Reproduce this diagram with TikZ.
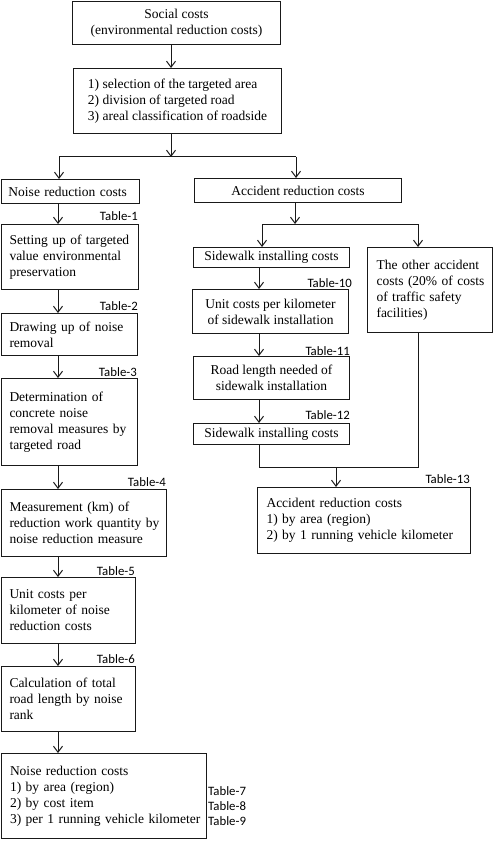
\documentclass[tikz,border=0pt]{standalone}
\usepackage{fontspec}
\setmainfont{Liberation Serif}
\newfontfamily\tabfont{Carlito}
\usetikzlibrary{arrows.meta}
\begin{document}
\begin{tikzpicture}[x=1pt,y=-1pt,
  box/.style={draw=black!90, line width=1pt, rectangle, anchor=north west, inner ysep=0pt, inner xsep=0pt,
    font=\fontsize{13.5pt}{16pt}\selectfont, text=black},
  cbox/.style={box, align=center},
  lbox/.style={box, align=left, inner xsep=8pt},
  arr/.style={draw=black!90, line width=1pt, -{Straight Barb[length=6pt,width=9pt,line width=1pt]}},
  conn/.style={draw=black!90, line width=1pt},
  tbl/.style={inner sep=0pt, font=\tabfont\fontsize{12.8pt}{14pt}\selectfont, text=black}]
\useasboundingbox (0,0) rectangle (493,842);

% left column boxes
\node[cbox, minimum width=208pt, minimum height=43pt] (social) at (72,1) {Social costs\\(environmental reduction costs)};
\node[box, align=left, minimum width=208pt, minimum height=65pt] (steps) at (73,68) {1) selection of the targeted area\\2) division of targeted road\\3) areal classification of roadside};
\node[lbox, inner xsep=7pt, text width=124pt, minimum height=24pt] (noise) at (1,179) {\mbox{Noise reduction costs}};
\node[cbox, minimum width=207pt, minimum height=24pt] (acc) at (194,178) {Accident reduction costs};
\node[lbox, text width=121pt, minimum height=65pt] (setting) at (1,224) {\mbox{Setting up of targeted}\\\mbox{value environmental}\\\mbox{preservation}};
\node[lbox, text width=120pt, minimum height=42pt] (drawing) at (1,313) {\mbox{Drawing up of noise}\\\mbox{removal}};
\node[lbox, text width=120pt, minimum height=87pt] (determ) at (1,378) {\mbox{Determination of}\\\mbox{concrete noise}\\\mbox{removal measures by}\\\mbox{targeted road}};
\node[lbox, text width=149pt, minimum height=67pt] (meas) at (1,489) {\mbox{Measurement (km) of}\\\mbox{reduction work quantity by}\\\mbox{noise reduction measure}};
\node[lbox, text width=118pt, minimum height=66pt] (unitn) at (1,577) {\mbox{Unit costs per}\\\mbox{kilometer of noise}\\\mbox{reduction costs}};
\node[lbox, text width=118pt, minimum height=65pt] (calc) at (1,666) {\mbox{Calculation of total}\\\mbox{road length by noise}\\\mbox{rank}};
\node[lbox, inner xsep=8.5pt, text width=188pt, minimum height=85pt] (noisefin) at (1,753) {\mbox{Noise reduction costs}\\\mbox{1) by area (region)}\\\mbox{2) by cost item}\\\mbox{3) per 1 running vehicle kilometer}};

% right column boxes
\node[cbox, minimum width=156pt, minimum height=20pt] (side1) at (193,247) {Sidewalk installing costs};
\node[cbox, minimum width=156pt, minimum height=44pt] (unitside) at (192,289) {Unit costs per kilometer\\of sidewalk installation};
\node[cbox, minimum width=156pt, minimum height=43pt] (roadlen) at (193,356) {Road length needed of\\sidewalk installation};
\node[cbox, minimum width=156pt, minimum height=21pt] (side2) at (193,423) {Sidewalk installing costs};
\node[lbox, inner xsep=9pt, text width=107pt, minimum height=85pt] (other) at (367,247) {\mbox{The other accident}\\\mbox{costs (20\% of costs}\\\mbox{of traffic safety}\\\mbox{facilities)}};
\node[lbox, inner xsep=9pt, text width=195pt, minimum height=66pt] (accfin) at (257,487) {\mbox{Accident reduction costs}\\\mbox{1) by area (region)}\\\mbox{2) by 1 running vehicle kilometer}};

% table labels
\node[tbl, anchor=east] (t1) at (138,216) {Table-1};
\node[tbl, anchor=east] (t2) at (138,306) {Table-2};
\node[tbl, anchor=east] (t3) at (137,372) {Table-3};
\node[tbl, anchor=east] (t4) at (166,482) {Table-4};
\node[tbl, anchor=east] (t5) at (135,571) {Table-5};
\node[tbl, anchor=east] (t6) at (135,659) {Table-6};
\node[tbl, anchor=west] (t7) at (208,791) {Table-7};
\node[tbl, anchor=west] (t8) at (208,806) {Table-8};
\node[tbl, anchor=west] (t9) at (208,821) {Table-9};
\node[tbl, anchor=east] (t10) at (352,283) {Table-10};
\node[tbl, anchor=east] (t11) at (350,351) {Table-11};
\node[tbl, anchor=east] (t12) at (350,415) {Table-12};
\node[tbl, anchor=east] (t13) at (470,479) {Table-13};

% connectors top
\coordinate (c1) at (171,0);
\coordinate (jM) at (171,157);
\coordinate (jL) at (59,157);
\coordinate (jR) at (296,157);
\draw[arr] (social.south -| c1) -- (steps.north -| c1);
\draw[arr] (steps.south -| jM) -- (jM);
\draw[conn] (jL) -- (jR);
\draw[arr] (jL) -- (noise.north -| jL);
\draw[arr] (jR) -- (acc.north -| jR);

% left chain
\coordinate (cL) at (58,0);
\draw[arr] (noise.south -| cL) -- (setting.north -| cL);
\draw[arr] (setting.south -| cL) -- (drawing.north -| cL);
\draw[arr] (drawing.south -| cL) -- (determ.north -| cL);
\draw[arr] (determ.south -| cL) -- (meas.north -| cL);
\draw[arr] (meas.south -| cL) -- (unitn.north -| cL);
\draw[arr] (unitn.south -| cL) -- (calc.north -| cL);
\draw[arr] (calc.south -| cL) -- (noisefin.north -| cL);

% right part
\coordinate (kM) at (295,224);
\coordinate (kL) at (262,224);
\coordinate (kR) at (418,224);
\draw[arr] (acc.south -| kM) -- (kM);
\draw[conn] (kL) -- (kR);
\draw[arr] (kL) -- (side1.north -| kL);
\draw[arr] (kR) -- (other.north -| kR);
\coordinate (cR) at (259,0);
\draw[arr] (side1.south -| cR) -- (unitside.north -| cR);
\draw[arr] (unitside.south -| cR) -- (roadlen.north -| cR);
\draw[arr] (roadlen.south -| cR) -- (side2.north -| cR);
\coordinate (bR) at (418,467);
\coordinate (m) at (336,467);
\draw[conn] (side2.south -| cR) |- (bR) -- (other.south -| bR);
\draw[arr] (m) -- (accfin.north -| m);
\end{tikzpicture}
\end{document}
